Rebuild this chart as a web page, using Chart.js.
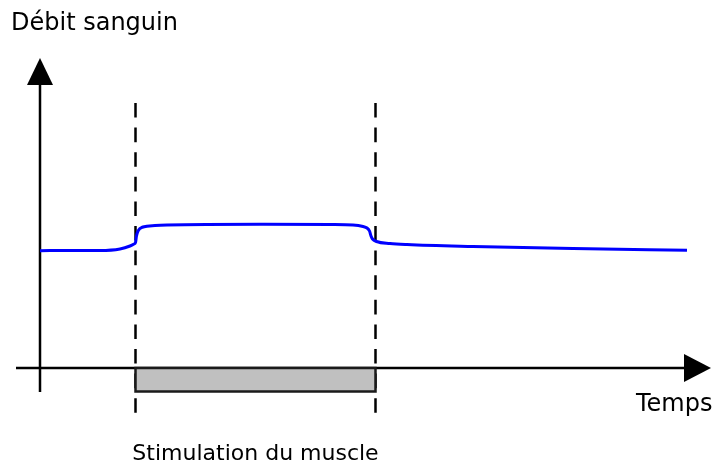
<!DOCTYPE html>
<html lang="fr">
<head>
    <meta charset="UTF-8">
    <title>Débit sanguin et stimulation du muscle</title>
    <style>
        html, body { margin: 0; padding: 0; background: #fff; }
        canvas { display: block; }
    </style>
</head>
<body>
    <canvas id="grafico" width="718" height="465"></canvas>

    <script src="https://cdn.jsdelivr.net/npm/chart.js"></script>
    <script>
        // courbe du débit (unités arbitraires)
        const temps = [0, 3, 6, 8, 9, 9.4, 9.55, 9.65, 9.8, 10.3, 11.5, 12.7, 22, 29, 31.3, 32.3, 32.7, 32.95, 33.1, 33.25, 33.65, 35, 36.7, 43.3, 53.3, 64.7];
        const debit = [11.73, 11.75, 11.75, 11.9, 12.2, 12.4, 12.55, 13.2, 13.7, 14.1, 14.25, 14.3, 14.38, 14.35, 14.3, 14.15, 14.0, 13.7, 13.2, 12.9, 12.65, 12.45, 12.34, 12.14, 11.94, 11.77];

        // début et fin de la stimulation
        const stimulation = [9.55, 33.55];

        const titreY = 'Débit sanguin';
        const titreX = 'Temps';
        const legendeStim = 'Stimulation du muscle';

        const police = '"Comic Sans MS", "DejaVu Sans", sans-serif';

        function fleche(ctx, pts) {
            ctx.beginPath();
            ctx.moveTo(pts[0][0], pts[0][1]);
            ctx.lineTo(pts[1][0], pts[1][1]);
            ctx.lineTo(pts[2][0], pts[2][1]);
            ctx.closePath();
            ctx.fill();
        }

        const decor = {
            id: 'decor',
            beforeDatasetsDraw(chart) {
                const ctx = chart.ctx;
                const x = chart.scales.x, y = chart.scales.y;
                const x0 = x.getPixelForValue(0);
                const y0 = y.getPixelForValue(0);
                ctx.save();
                ctx.strokeStyle = '#000';
                ctx.fillStyle = '#000';

                // pointillés verticaux
                ctx.lineWidth = 2.5;
                ctx.setLineDash([14.6, 10]);
                stimulation.forEach(t => {
                    const px = x.getPixelForValue(t);
                    ctx.beginPath();
                    ctx.moveTo(px, y.getPixelForValue(26.5));
                    ctx.lineTo(px, y.getPixelForValue(-4.5));
                    ctx.stroke();
                });
                ctx.setLineDash([]);

                // axes avec flèches
                ctx.lineWidth = 2.5;
                ctx.beginPath();
                ctx.moveTo(x0, y.getPixelForValue(-2.4));
                ctx.lineTo(x0, y.getPixelForValue(28.4));
                ctx.moveTo(x.getPixelForValue(-2.4), y0);
                ctx.lineTo(x.getPixelForValue(64.5), y0);
                ctx.stroke();
                const yTop = y.getPixelForValue(31);
                fleche(ctx, [[x0, yTop], [x0 - 13, yTop + 27], [x0 + 13, yTop + 27]]);
                const xEnd = x.getPixelForValue(67.1);
                fleche(ctx, [[xEnd, y0], [xEnd - 27, y0 - 14], [xEnd - 27, y0 + 14]]);
                ctx.restore();
            },
            afterDraw(chart) {
                const ctx = chart.ctx;
                const x = chart.scales.x, y = chart.scales.y;
                ctx.save();

                // barre de stimulation
                const xa = x.getPixelForValue(stimulation[0]);
                const xb = x.getPixelForValue(stimulation[1]);
                const ya = y.getPixelForValue(0);
                const yb = y.getPixelForValue(-2.35);
                ctx.fillStyle = '#c0c0c0';
                ctx.fillRect(xa, ya, xb - xa, yb - ya);
                ctx.strokeStyle = '#1a1a1a';
                ctx.lineWidth = 2.5;
                ctx.strokeRect(xa, ya, xb - xa, yb - ya);

                // textes
                ctx.fillStyle = '#000';
                ctx.font = '24px ' + police;
                ctx.textBaseline = 'alphabetic';
                ctx.textAlign = 'left';
                ctx.fillText(titreY, 11, 30);
                ctx.fillText(titreX, 636, 411);
                ctx.font = '22px ' + police;
                ctx.textAlign = 'center';
                ctx.fillText(legendeStim, (xa + xb) / 2, 460);
                ctx.restore();
            }
        };

        const ctx = document.getElementById('grafico').getContext('2d');
        const grafico = new Chart(ctx, {
            type: 'line',
            data: {
                datasets: [{
                    label: titreY,
                    data: temps.map((t, i) => ({ x: t, y: debit[i] })),
                    borderColor: '#0000ff',
                    borderWidth: 3,
                    pointRadius: 0,
                    cubicInterpolationMode: 'monotone',
                    fill: false
                }]
            },
            options: {
                responsive: false,
                animation: false,
                devicePixelRatio: 1,
                layout: { padding: { left: 16, right: 7, top: 58, bottom: 47 } },
                plugins: { legend: { display: false }, tooltip: { enabled: false } },
                scales: {
                    x: { type: 'linear', min: -2.4, max: 67.1, display: false },
                    y: { min: -5, max: 31, display: false }
                }
            },
            plugins: [decor]
        });
    </script>
</body>
</html>
